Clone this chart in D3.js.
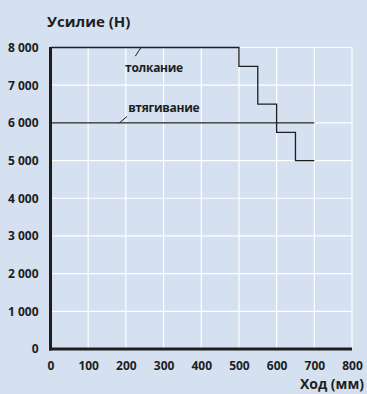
<!DOCTYPE html>
<html><head><meta charset="utf-8">
<script src="https://cdn.jsdelivr.net/npm/d3@7"></script>
<style>
html,body{margin:0;padding:0;background:#d5e0f1;}
svg{display:block;}
text{font-family:"Open Sans","DejaVu Sans",sans-serif;fill:#1e1e1e;font-weight:700;}
</style></head>
<body>
<script>
const xTicks = [0,100,200,300,400,500,600,700,800];
const yTicks = [0,1000,2000,3000,4000,5000,6000,7000,8000];
const pushX = [0,500,500,550,550,600,600,650,650,700];
const pushY = [8000,8000,7500,7500,6500,6500,5750,5750,5000,5000];
const pullX = [0,700];
const pullY = [6000,6000];
const labels = ["толкание","втягивание"];
const yTitle = "Усилие (Н)";
const xTitle = "Ход (мм)";

const W=367,H=394;
const svg=d3.select("body").append("svg").attr("width",W).attr("height",H);
svg.append("rect").attr("width",W).attr("height",H).attr("fill","#d5e0f1");
const x=d3.scaleLinear().domain([0,800]).range([50.5,352]);
const y=d3.scaleLinear().domain([0,8000]).range([349,47.5]);
const fmt=d=>d3.format(",")(d).replace(/,/g," ");

// grid
svg.append("g").selectAll("line").data(xTicks.slice(1)).join("line")
 .attr("x1",d=>x(d)).attr("x2",d=>x(d)).attr("y1",y(8000)).attr("y2",y(0))
 .attr("stroke","#fff").attr("stroke-width",1.2);
svg.append("g").selectAll("line").data(yTicks.slice(1)).join("line")
 .attr("x1",x(0)).attr("x2",x(800)).attr("y1",d=>y(d)).attr("y2",d=>y(d))
 .attr("stroke","#fff").attr("stroke-width",1.2);

// axes using d3 axes
const xAxis=svg.append("g").attr("transform",`translate(0,${y(0)})`)
 .call(d3.axisBottom(x).tickValues(xTicks).tickSize(0).tickPadding(12).tickFormat(d=>d));
xAxis.select(".domain").remove();
xAxis.selectAll("text").attr("font-size",12).attr("font-family","'Open Sans',sans-serif").attr("font-weight",700).attr("fill","#1e1e1e");
const yAxis=svg.append("g").attr("transform",`translate(${x(0)-12},0)`)
 .call(d3.axisLeft(y).tickValues(yTicks).tickSize(0).tickPadding(0).tickFormat(fmt));
yAxis.select(".domain").remove();
yAxis.selectAll("text").attr("font-size",12).attr("font-family","'Open Sans',sans-serif").attr("font-weight",700).attr("fill","#1e1e1e");

// data lines
const line=d3.line().x(d=>x(d[0])).y(d=>y(d[1]));
svg.append("path").datum(pullX.map((v,i)=>[v,pullY[i]])).attr("d",line)
 .attr("fill","none").attr("stroke","#1e1e1e").attr("stroke-width",1.3);
svg.append("path").datum(pushX.map((v,i)=>[v,pushY[i]])).attr("d",line)
 .attr("fill","none").attr("stroke","#1e1e1e").attr("stroke-width",1.3);

// axis lines
svg.append("line").attr("x1",x(0)).attr("x2",x(0)).attr("y1",y(8000)-0.5).attr("y2",y(0)+1.5)
 .attr("stroke","#1e1e1e").attr("stroke-width",3);
svg.append("line").attr("x1",x(0)-1.5).attr("x2",x(800)).attr("y1",y(0)).attr("y2",y(0))
 .attr("stroke","#1e1e1e").attr("stroke-width",3);

// labels and leaders
svg.append("line").attr("x1",x(225)).attr("y1",y(7770)).attr("x2",x(240)).attr("y2",y(8000))
 .attr("stroke","#1e1e1e").attr("stroke-width",1);
svg.append("text").attr("x",x(198)).attr("y",72).attr("font-size",12).attr("letter-spacing","-0.3px").text(labels[0]);
svg.append("line").attr("x1",x(183)).attr("y1",y(6000)).attr("x2",x(203)).attr("y2",y(6170))
 .attr("stroke","#1e1e1e").attr("stroke-width",1);
svg.append("text").attr("x",x(206)).attr("y",112).attr("font-size",12).attr("letter-spacing","-0.3px").text(labels[1]);

svg.append("text").attr("x",47).attr("y",27).attr("font-size",15).text(yTitle);
svg.append("text").attr("x",364).attr("y",389).attr("text-anchor","end").attr("font-size",14).text(xTitle);
</script>
</body></html>
